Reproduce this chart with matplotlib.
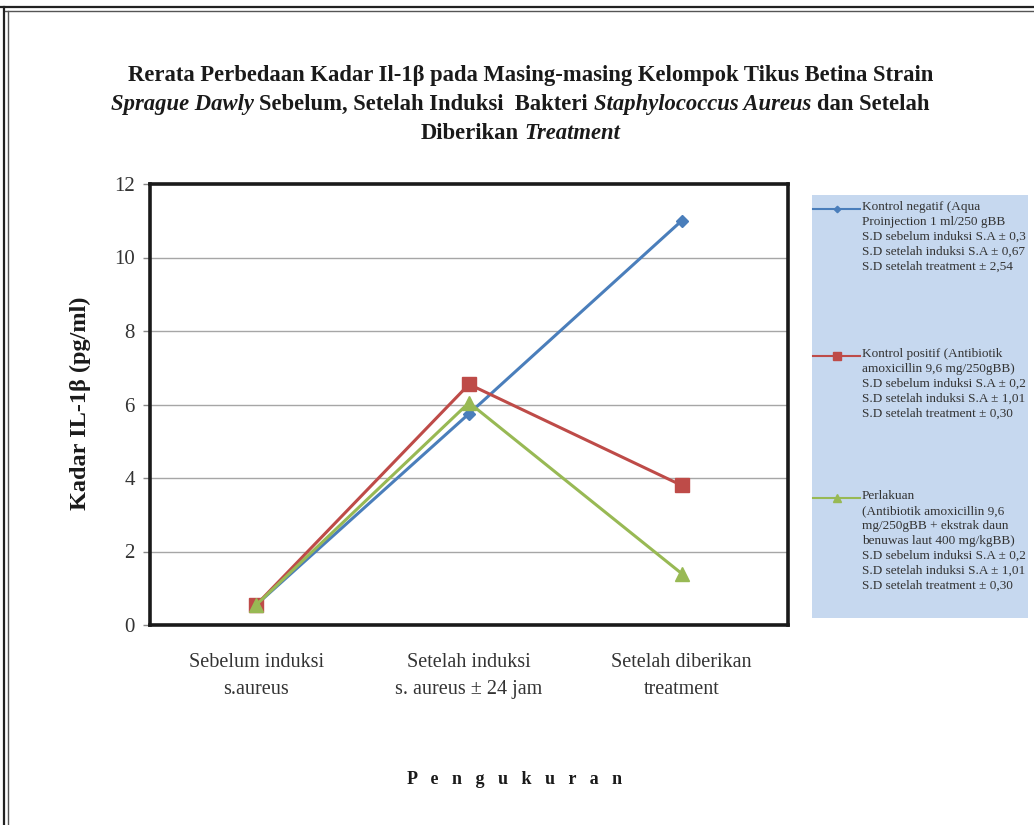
import matplotlib
matplotlib.use("Agg")
import matplotlib.pyplot as plt
from matplotlib.lines import Line2D
from matplotlib.patches import Rectangle

# ---------------- data ----------------
categories = ["Sebelum induksi\ns.aureus",
              "Setelah induksi\ns. aureus \u00b1 24 jam",
              "Setelah diberikan\ntreatment"]
kontrol_negatif = [0.55, 5.75, 11.0]
kontrol_positif = [0.55, 6.55, 3.8]
perlakuan = [0.55, 6.05, 1.4]

legend_labels = [
    "Kontrol negatif (Aqua\nProinjection 1 ml/250 gBB\nS.D sebelum induksi S.A \u00b1 0,3\nS.D setelah induksi S.A \u00b1 0,67\nS.D setelah treatment \u00b1 2,54",
    "Kontrol positif (Antibiotik\namoxicillin 9,6 mg/250gBB)\nS.D sebelum induksi S.A \u00b1 0,2\nS.D setelah induksi S.A \u00b1 1,01\nS.D setelah treatment \u00b1 0,30",
    "Perlakuan\n(Antibiotik amoxicillin 9,6\nmg/250gBB + ekstrak daun\nbenuwas laut 400 mg/kgBB)\nS.D sebelum induksi S.A \u00b1 0,2\nS.D setelah induksi S.A \u00b1 1,01\nS.D setelah treatment \u00b1 0,30",
]
yticks = [0, 2, 4, 6, 8, 10, 12]

colors = ["#4a7ebb", "#be4b48", "#98b954"]
markers = ["D", "s", "^"]
msizes = [6, 10, 10]

W, H = 1034, 825
fig = plt.figure(figsize=(W / 100, H / 100), dpi=100)
fig.patch.set_facecolor("white")
SERIF = "Liberation Serif"


def fx(px):
    return px / W


def fy(py):
    return 1 - py / H


# page border (double line at top and left)
fig.add_artist(Line2D([fx(0), fx(W)], [fy(7), fy(7)], color="#222222", lw=1.6))
fig.add_artist(Line2D([fx(4), fx(W)], [fy(11), fy(11)], color="#555555", lw=1.0))
fig.add_artist(Line2D([fx(4), fx(4)], [fy(7), fy(H)], color="#222222", lw=1.6))
fig.add_artist(Line2D([fx(8), fx(8)], [fy(11), fy(H)], color="#555555", lw=1.0))

# ---------------- axes ----------------
L, R, T, B = 150, 788, 184, 625
ax = fig.add_axes([fx(L), fy(B), fx(R - L), (B - T) / H])
series = [kontrol_negatif, kontrol_positif, perlakuan]
x = list(range(len(categories)))
for vals, c, m, ms in zip(series, colors, markers, msizes):
    ax.plot(x, vals, color=c, lw=2.2, marker=m, markersize=ms,
            markeredgecolor=c, markerfacecolor=c, zorder=3)

ax.set_xlim(-0.5, len(categories) - 0.5)
ax.set_ylim(0, 12)
ax.set_yticks(yticks)
ax.set_yticklabels([str(v) for v in yticks], fontsize=15, family=SERIF, color="#333333")
ax.set_xticks(x)
ax.set_xticklabels(categories, fontsize=14.5, family=SERIF, color="#333333", linespacing=1.6)
ax.tick_params(axis="x", length=0, pad=20)
ax.tick_params(axis="y", length=5, width=1, color="#888888", pad=6)
ax.yaxis.grid(True, color="#a6a6a6", lw=1)
ax.set_axisbelow(True)
for s in ax.spines.values():
    s.set_linewidth(2.6)
    s.set_color("#1a1a1a")

# y label
fig.text(fx(80), fy(403), "Kadar IL-1\u03b2 (pg/ml)", rotation=90, ha="center", va="center",
         fontsize=17.5, fontweight="bold", family=SERIF, color="#1a1a1a")

# x axis title
fig.text(fx(515), fy(780), "P   e   n   g   u   k   u   r   a   n", ha="center", va="center",
         fontsize=13, fontweight="bold", family=SERIF, color="#1a1a1a")

# ---------------- title with mixed italics ----------------
renderer = fig.canvas.get_renderer()


def measure(s, size, style):
    t = fig.text(0, 0, s, fontsize=size, fontweight="bold", style=style, family=SERIF)
    w = t.get_window_extent(renderer).width
    t.remove()
    return w


def mixed_line(segments, cx, base_y, size):
    sp = measure("x x", size, "normal") - measure("xx", size, "normal")
    items = []
    for txt, style in segments:
        lead = len(txt) - len(txt.lstrip(" "))
        trail = len(txt) - len(txt.rstrip(" "))
        core = txt.strip(" ")
        items.append((lead, core, style, trail))
    total = 0
    widths = []
    for lead, core, style, trail in items:
        w = measure(core, size, style)
        widths.append(w)
        total += (lead + trail) * sp + w
    xpos = cx - total / 2
    for (lead, core, style, trail), w in zip(items, widths):
        xpos += lead * sp
        fig.text(fx(xpos), fy(base_y), core, fontsize=size, fontweight="bold", style=style,
                 family=SERIF, ha="left", va="baseline", color="#1a1a1a")
        xpos += w + trail * sp


title_size = 16.3
line1 = [("Rerata Perbedaan Kadar Il-1\u03b2 pada Masing-masing Kelompok Tikus Betina Strain", "normal")]
line2 = [("Sprague Dawly", "italic"), (" Sebelum, Setelah Induksi  Bakteri ", "normal"),
         ("Staphylococcus Aureus", "italic"), (" dan Setelah", "normal")]
line3 = [("Diberikan ", "normal"), ("Treatment", "italic")]
mixed_line(line1, 531, 81, title_size)
mixed_line(line2, 520, 110, title_size)
mixed_line(line3, 520, 139, title_size)

# ---------------- legend ----------------
lx0, lx1, ly0, ly1 = 812, 1028, 195, 618
fig.add_artist(Rectangle((fx(lx0), fy(ly1)), fx(lx1 - lx0), (ly1 - ly0) / H,
                         facecolor="#c6d8ef", edgecolor="none", zorder=1))
entry_y = [209, 356, 498]
for lab, c, m, ms, yy in zip(legend_labels, colors, markers, msizes, entry_y):
    fig.add_artist(Line2D([fx(813), fx(860)], [fy(yy), fy(yy)], color=c, lw=1.5, zorder=2))
    fig.add_artist(Line2D([fx(836.5)], [fy(yy)], color=c, marker=m, markersize=ms * 0.55,
                          markeredgecolor=c, markerfacecolor=c, zorder=3))
    fig.text(fx(862), fy(yy - 8), lab, ha="left", va="top", fontsize=9.5, family=SERIF,
             color="#333333", linespacing=1.32, zorder=4)

fig.savefig("out.png", dpi=100, facecolor="white")
